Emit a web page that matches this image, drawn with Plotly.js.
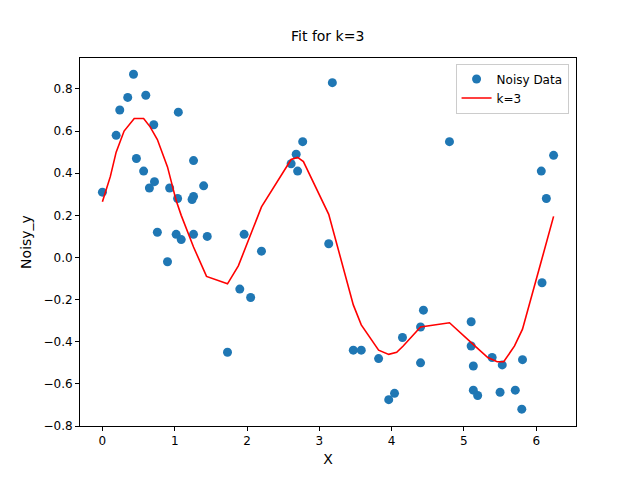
<!DOCTYPE html>
<html>
<head>
<script src="https://cdn.plot.ly/plotly-3.0.1.min.js"></script>
<style>body{margin:0}</style>
</head>
<body>
<div id="chart" style="width:640px;height:480px"></div>
<script>
var dataX = [0,0.19,0.24,0.35,0.43,0.47,0.57,0.60,0.65,0.71,0.72,0.76,0.90,0.93,1.02,1.05,1.04,1.09,1.24,1.26,1.26,1.26,1.40,1.45,1.73,1.90,1.96,2.05,2.20,2.61,2.68,2.70,2.77,3.13,3.18,3.47,3.58,3.82,3.96,4.04,4.15,4.40,4.40,4.44,4.80,5.10,5.10,5.13,5.13,5.19,5.39,5.50,5.53,5.71,5.81,5.80,6.07,6.08,6.14,6.24];
var dataY = [0.31,0.58,0.70,0.76,0.87,0.47,0.41,0.77,0.33,0.63,0.36,0.12,-0.02,0.33,0.11,0.69,0.28,0.085,0.275,0.46,0.29,0.11,0.34,0.10,-0.45,-0.15,0.11,-0.19,0.03,0.445,0.49,0.41,0.55,0.065,0.83,-0.44,-0.44,-0.48,-0.675,-0.645,-0.38,-0.33,-0.50,-0.25,0.55,-0.305,-0.42,-0.515,-0.63,-0.655,-0.475,-0.64,-0.51,-0.63,-0.485,-0.72,0.41,-0.12,0.28,0.485];
var fitX = [0,0.11,0.19,0.30,0.44,0.57,0.66,0.76,0.90,1.02,1.09,1.26,1.44,1.73,1.88,2.02,2.20,2.61,2.70,2.78,3.01,3.13,3.47,3.58,3.82,3.96,4.07,4.16,4.40,4.80,5.12,5.33,5.46,5.55,5.70,5.81,6.08,6.24];
var fitY = [0.265,0.385,0.50,0.60,0.66,0.66,0.62,0.56,0.43,0.27,0.20,0.05,-0.09,-0.125,-0.04,0.085,0.24,0.465,0.475,0.455,0.29,0.205,-0.225,-0.32,-0.44,-0.46,-0.45,-0.42,-0.33,-0.31,-0.41,-0.475,-0.495,-0.495,-0.42,-0.34,-0.005,0.195];

var traces = [
  {type:'scatter', mode:'markers', x:dataX, y:dataY, name:'Noisy Data',
   marker:{color:'#1f77b4', size:9}},
  {type:'scatter', mode:'lines', x:fitX, y:fitY, name:'k=3',
   line:{color:'red', width:1.6}}
];

var axisStyle = {showgrid:false, zeroline:false, showline:true, mirror:true,
  linecolor:'black', linewidth:1, ticks:'outside', ticklen:4, tickcolor:'black'};

var layout = {
  width:640, height:480,
  font:{family:'DejaVu Sans', size:12, color:'black'},
  margin:{l:80, r:64, t:58, b:54},
  plot_bgcolor:'white', paper_bgcolor:'white',
  title:{text:'Fit for k=3', x:0.512, y:0.935, font:{size:14}},
  xaxis:Object.assign({range:[-0.31,6.55], dtick:1, title:{text:'X', standoff:6}}, axisStyle),
  yaxis:Object.assign({range:[-0.8,0.947], dtick:0.2, tickformat:'.1f', title:{text:'Noisy_y', standoff:8}}, axisStyle),
  showlegend:true,
  legend:{x:0.985, y:0.985, xanchor:'right', yanchor:'top', bgcolor:'white',
    bordercolor:'#ccc', borderwidth:1, font:{size:12}}
};

Plotly.newPlot('chart', traces, layout, {displayModeBar:false});
</script>
</body>
</html>
